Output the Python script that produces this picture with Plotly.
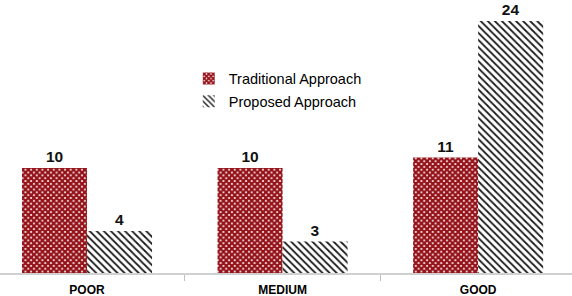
import plotly.graph_objects as go

categories = ["POOR", "MEDIUM", "GOOD"]
traditional = [10, 10, 11]
proposed = [4, 3, 24]
series_names = ["Traditional Approach", "Proposed Approach"]

fig = go.Figure()
fig.add_trace(go.Bar(
    x=categories, y=traditional, name=series_names[0], legendgroup="a",
    text=[str(v) for v in traditional], textposition="outside",
    textfont=dict(family="Liberation Sans", size=15.5, color="#111111", weight="bold"),
    marker=dict(color="#ffffff", line=dict(width=0),
                pattern=dict(shape="x", fgcolor="#951219", bgcolor="#ffffff",
                             size=4, solidity=0.8, fillmode="replace")),
    cliponaxis=False,
))
fig.add_trace(go.Bar(
    x=categories, y=proposed, name=series_names[1], legendgroup="b",
    text=[str(v) for v in proposed], textposition="outside",
    textfont=dict(family="Liberation Sans", size=15.5, color="#111111", weight="bold"),
    marker=dict(color="#ffffff", line=dict(width=0),
                pattern=dict(shape="\\", fgcolor="#1a1a1a", bgcolor="#ffffff",
                             size=5, solidity=0.35, fillmode="replace")),
    cliponaxis=False,
))

fig.update_layout(
    width=572, height=296,
    margin=dict(l=0, r=0, t=0, b=23),
    barmode="group", bargap=0.335, bargroupgap=0,
    plot_bgcolor="#ffffff", paper_bgcolor="#ffffff",
    font=dict(family="Liberation Sans", size=14, color="#000000"),
    showlegend=True,
    legend=dict(x=0.33, y=0.67, xanchor="left", yanchor="middle",
                bgcolor="rgba(0,0,0,0)", font=dict(size=14.5),
                itemwidth=30, tracegroupgap=1, traceorder="grouped"),
)
fig.update_xaxes(
    range=[-0.445, 2.48], showgrid=False, showline=True, linecolor="#d0d0d0",
    linewidth=2, ticks="outside", tickson="boundaries", ticklen=6,
    tickcolor="#c0c0c0", tickwidth=1, ticklabelstandoff=5,
    tickfont=dict(family="Liberation Sans", size=12, color="#000000", weight="bold"),
)
fig.update_yaxes(range=[0, 26], visible=False, showgrid=False)

fig.write_html("out.html", config={"displayModeBar": False},
               post_script="document.body.style.margin='0';")
